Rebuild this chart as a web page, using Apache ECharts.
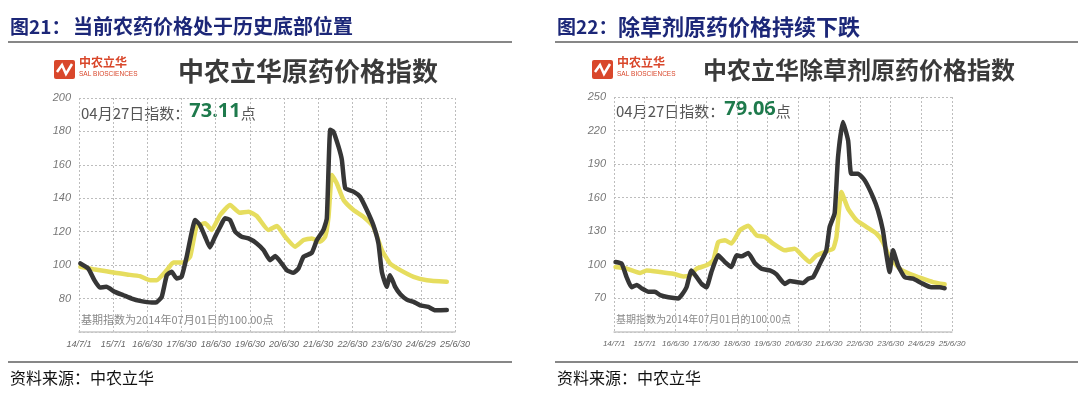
<!DOCTYPE html>
<html>
<head>
<meta charset="utf-8">
<script src="https://cdn.jsdelivr.net/npm/echarts@6/dist/echarts.min.js"></script>
<style>
  html, body { margin: 0; padding: 0; background: #fff; }
  #chart { width: 1080px; height: 398px; }
</style>
</head>
<body>
<div id="chart"></div>
<script>
// x = years after 2014-07-01, y = index value (base 100)
const xLabels = ['14/7/1', '15/7/1', '16/6/30', '17/6/30', '18/6/30', '19/6/30',
  '20/6/30', '21/6/30', '22/6/30', '23/6/30', '24/6/29', '25/6/30'];

// 图21 - 原药价格指数
const allBlack = [
  [0.04, 101], [0.27, 98], [0.45, 91], [0.61, 86.6], [0.8, 87], [1.05, 84], [1.3, 82],
  [1.54, 80], [1.78, 78.6], [2.13, 77.6], [2.27, 77.8], [2.42, 81], [2.57, 94], [2.71, 96],
  [2.86, 92], [3.0, 93], [3.15, 105], [3.4, 127], [3.54, 124], [3.69, 117], [3.83, 110.6],
  [3.98, 117], [4.13, 123], [4.27, 128], [4.42, 127], [4.57, 120], [4.76, 117], [4.96, 116],
  [5.2, 113], [5.4, 109], [5.59, 103], [5.74, 105.4], [5.93, 101], [6.08, 97], [6.27, 95.4],
  [6.42, 98], [6.57, 105], [6.81, 107.4], [6.96, 115], [7.15, 121], [7.25, 128], [7.35, 181],
  [7.44, 180], [7.59, 171], [7.69, 163], [7.79, 146], [8.03, 144], [8.22, 141], [8.42, 133],
  [8.61, 124], [8.76, 113], [8.86, 96], [9.0, 87], [9.1, 94], [9.25, 87], [9.4, 82.6],
  [9.59, 79.4], [9.79, 78], [9.98, 76], [10.22, 75], [10.42, 73], [10.76, 73.11]
];
const allYellow = [
  [0.04, 99], [0.42, 97.6], [0.8, 96.4], [1.05, 95.4], [1.4, 94.4], [1.78, 93.4], [2.08, 91],
  [2.27, 91], [2.57, 97], [2.76, 101.6], [3.05, 101.6], [3.25, 105], [3.44, 123], [3.69, 125],
  [3.88, 121], [4.13, 130], [4.42, 136], [4.7, 131.4], [4.96, 132], [5.2, 129.4], [5.54, 121],
  [5.79, 123.4], [6.03, 117], [6.32, 111], [6.57, 115], [6.81, 116], [7.05, 114], [7.2, 117],
  [7.3, 129], [7.4, 154], [7.54, 149], [7.74, 139], [8.03, 133], [8.32, 129], [8.61, 123],
  [8.86, 109], [9.1, 101], [9.4, 97], [9.79, 93], [10.18, 91], [10.76, 90]
];

// 图22 - 除草剂原药价格指数
const herbBlack = [
  [0.05, 102.5], [0.25, 101], [0.41, 89], [0.57, 80], [0.74, 82], [0.9, 79], [1.12, 76],
  [1.33, 76], [1.5, 73], [1.77, 71], [2.09, 70], [2.2, 73], [2.36, 80], [2.52, 95], [2.69, 89],
  [2.85, 83], [3.01, 80], [3.17, 93.6], [3.39, 108.5], [3.61, 102.5], [3.82, 98], [3.99, 108.5],
  [4.15, 107.6], [4.37, 110.6], [4.58, 101.6], [4.8, 96.6], [5.07, 95], [5.29, 91.5], [5.56, 83],
  [5.72, 85.6], [5.94, 84.6], [6.15, 83.8], [6.32, 87.6], [6.48, 89], [6.7, 101], [6.91, 113],
  [7.02, 134], [7.18, 146], [7.29, 196], [7.45, 227.7], [7.62, 211], [7.72, 181.5], [7.94, 181.5],
  [8.16, 175.5], [8.43, 160.6], [8.59, 148.7], [8.75, 131], [8.86, 110], [8.97, 93.6], [9.08, 113],
  [9.24, 99.6], [9.46, 89], [9.73, 87.6], [10.0, 83.8], [10.32, 80], [10.6, 80], [10.76, 79.06]
];
const herbYellow = [
  [0.05, 98], [0.41, 96.6], [0.85, 92.7], [1.06, 95], [1.5, 93.6], [1.93, 92], [2.25, 89.7],
  [2.47, 90.6], [2.69, 96.6], [3.01, 99.6], [3.23, 104], [3.39, 120.4], [3.61, 122], [3.82, 119],
  [4.1, 131], [4.37, 135], [4.64, 126.4], [4.91, 125], [5.18, 119], [5.56, 113], [5.88, 114.4],
  [6.15, 107.6], [6.37, 102.5], [6.59, 108.5], [6.86, 111.5], [7.13, 114.4], [7.24, 125],
  [7.4, 165], [7.62, 150], [7.89, 140], [8.21, 134], [8.54, 128], [8.75, 120.4], [8.97, 107],
  [9.3, 96.6], [9.62, 92], [10.05, 87.6], [10.38, 84.6], [10.76, 82.6]
];

const figNums = ['图21：', '图22：'];
const figTitles = ['当前农药价格处于历史底部位置', '除草剂原药价格持续下跌'];
const chartHeads = ['中农立华原药价格指数', '中农立华除草剂原药价格指数'];
const latest = ['73.11', '79.06'];
const sourceText = '资料来源：中农立华';
const baseNote = '基期指数为2014年07月01日的100.00点';

const NAVY = '#1c2778';
const RED = '#d9472b';
const GREY = '#555';
const YELLOW = '#e6dd5e';

const chart = echarts.init(document.getElementById('chart'));

// logo + header texts for one panel
const panelGraphics = (p) => {
  const x0 = p.x0, right = p.right;
  return [
    { type: 'text', left: x0 + 2, top: 17,
      style: { text: figNums[p.i], font: 'bold 19px "Noto Sans CJK SC"', fill: NAVY } },
    { type: 'text', left: p.titleX, top: 16,
      style: { text: figTitles[p.i], font: 'bold ' + p.titleSize + 'px "Noto Sans CJK SC"', fill: NAVY } },
    { type: 'line', shape: { x1: x0, y1: 42, x2: right, y2: 42 },
      style: { stroke: '#111', lineWidth: 1.2 } },
    { type: 'line', shape: { x1: x0, y1: 362, x2: right, y2: 362 },
      style: { stroke: '#111', lineWidth: 1.2 } },
    { type: 'text', left: x0 + 2, top: 370,
      style: { text: sourceText, font: '16px "Noto Sans CJK SC"', fill: '#111' } },
    // logo
    { type: 'rect', shape: { x: p.logoX, y: 60, width: 21, height: 19, r: 2 }, style: { fill: RED } },
    { type: 'polyline', shape: { points: [[p.logoX + 3, 72], [p.logoX + 8, 65], [p.logoX + 12, 74], [p.logoX + 18, 64]] },
      style: { stroke: '#fff', lineWidth: 2.5, fill: null } },
    { type: 'text', left: p.logoX + 25, top: 56,
      style: { text: '中农立华', font: 'bold 12px "Noto Sans CJK SC"', fill: RED } },
    { type: 'text', left: p.logoX + 25, top: 71,
      style: { text: 'SAL BIOSCIENCES', font: '6.5px "Liberation Sans"', fill: RED } },
    { type: 'text', left: p.headX, top: 58,
      style: { text: chartHeads[p.i], font: 'bold ' + p.headSize + 'px "Noto Sans CJK SC"', fill: '#3a3a3a' } },
    // latest value
    { type: 'text', left: p.gx + 2, top: p.noteY,
      style: {
        text: '{a|04月27日指数：}{b|' + latest[p.i] + '}{a|点}',
        rich: {
          a: { font: '15px "Noto Sans CJK SC"', fill: GREY, verticalAlign: 'bottom' },
          b: { font: 'bold 20px "Open Sans"', fill: '#1e7a4c', verticalAlign: 'bottom' }
        }
      } },
    { type: 'text', left: p.gx + 2, top: 314,
      style: { text: baseNote, font: p.baseSize + 'px "Noto Sans CJK SC"', fill: '#888' } }
  ];
};

const lineSeries = (data, color, idx) => ({
  type: 'line',
  data: data,
  xAxisIndex: idx,
  yAxisIndex: idx,
  showSymbol: false,
  smooth: 0.15,
  lineStyle: { color: color, width: 4.5, cap: 'round', join: 'round' },
  z: color === YELLOW ? 2 : 3
});

const xAxisFor = (idx, size) => ({
  type: 'value', gridIndex: idx, min: 0, max: 11, interval: 1,
  axisLine: { show: true, lineStyle: { color: '#c8c8c8', width: 1.5 } },
  axisTick: { show: false },
  axisLabel: {
    formatter: (v) => xLabels[v] || '',
    fontStyle: 'italic', fontSize: size, color: '#666', margin: 8,
    fontFamily: '"Liberation Sans Narrow", "Liberation Sans"'
  },
  splitLine: { show: true, lineStyle: { type: [2, 2], color: '#bdbdbd' } }
});

const yAxisFor = (idx, min, max, step) => ({
  type: 'value', gridIndex: idx, min: min, max: max, interval: step,
  axisLine: { show: false },
  axisTick: { show: false },
  axisLabel: {
    formatter: (v) => (v === min ? '' : v),
    fontStyle: 'italic', fontSize: 11, color: '#777', margin: 8,
    fontFamily: '"Liberation Sans"'
  },
  splitLine: { show: true, lineStyle: { type: [2, 2], color: '#bdbdbd' } }
});

chart.setOption({
  animation: false,
  grid: [
    { left: 79, top: 98, width: 376, height: 234, containLabel: false },
    { left: 614, top: 97, width: 338, height: 235, containLabel: false }
  ],
  xAxis: [xAxisFor(0, 9), xAxisFor(1, 8)],
  yAxis: [yAxisFor(0, 60, 200, 20), yAxisFor(1, 40, 250, 30)],
  series: [
    lineSeries(allYellow, YELLOW, 0),
    lineSeries(allBlack, '#363636', 0),
    lineSeries(herbYellow, YELLOW, 1),
    lineSeries(herbBlack, '#363636', 1)
  ],
  graphic: [
    ...panelGraphics({ i: 0, x0: 8, right: 512, titleX: 73, titleSize: 20, logoX: 54, headX: 178, headSize: 26, gx: 79, noteY: 101, baseSize: 11 }),
    ...panelGraphics({ i: 1, x0: 555, right: 1078, titleX: 618, titleSize: 22, logoX: 592, headX: 703, headSize: 24, gx: 614, noteY: 99, baseSize: 10 })
  ]
});
</script>
</body>
</html>
